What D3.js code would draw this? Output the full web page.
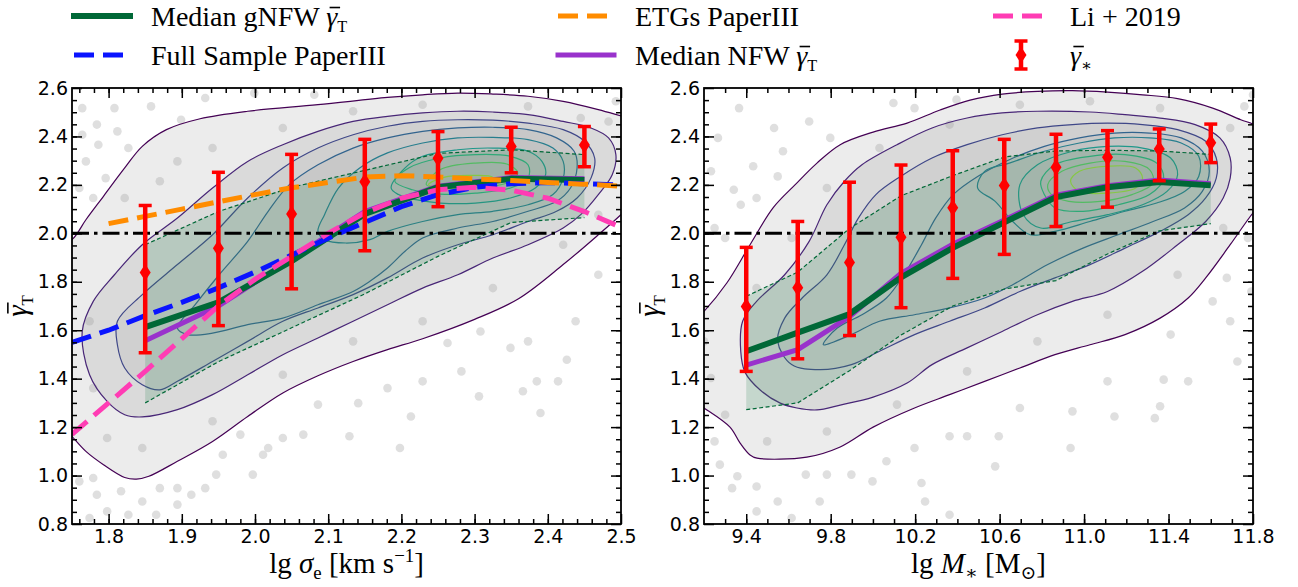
<!DOCTYPE html>
<html>
<head>
<meta charset="utf-8">
<script src="https://cdn.jsdelivr.net/npm/d3@7/dist/d3.min.js"></script>
<style>
	body { margin: 0; background: #fff; }
	.tick text { font-family: "DejaVu Sans", sans-serif; font-size: 19px; fill: #000; }
	.serif { font-family: "Liberation Serif", "DejaVu Serif", serif; fill: #000; }
</style>
</head>
<body>
<div id="chart"></div>
<script>

// ---- shared axis values
var gammaDomain = [0.8, 2.6];
var gammaTicks = [0.8, 1.0, 1.2, 1.4, 1.6, 1.8, 2.0, 2.2, 2.4, 2.6];
var sigmaDomain = [1.75, 2.5];
var sigmaTicks = [1.8, 1.9, 2.0, 2.1, 2.2, 2.3, 2.4, 2.5];
var massDomain = [9.2, 11.8];
var massTicks = [9.4, 9.8, 10.2, 10.6, 11.0, 11.4, 11.8];
var isothermal = 2.0;

// ---- left panel: lg sigma_e
var sigmaBins = [1.85, 1.95, 2.05, 2.15, 2.25, 2.35, 2.45];
var sigmaGammaStar = [1.838, 1.938, 2.08, 2.213, 2.31, 2.358, 2.365];
var sigmaStarLow = [1.507, 1.619, 1.771, 1.928, 2.11, 2.25, 2.275];
var sigmaStarHigh = [2.115, 2.252, 2.326, 2.388, 2.42, 2.438, 2.441];
var sigmaMedGNFW = [1.613, 1.715, 1.885, 2.08, 2.19, 2.225, 2.22];
var sigmaMedNFW = [1.557, 1.70, 1.895, 2.09, 2.195, 2.23, 2.225];
var sigmaBandLow = [1.30, 1.47, 1.61, 1.75, 1.905, 2.045, 2.065];
var sigmaBandHigh = [1.953, 2.09, 2.19, 2.26, 2.33, 2.345, 2.325];

var fullSample = [[1.75,1.55],[1.80,1.60],[1.85,1.66],[1.90,1.715],[1.95,1.775],[2.00,1.84],[2.05,1.91],[2.10,1.98],
	[2.15,2.045],[2.20,2.11],[2.25,2.16],[2.30,2.19],[2.35,2.205],[2.40,2.21],[2.45,2.205],[2.50,2.20]];
var etgPaper = [[1.80,2.04],[1.85,2.07],[1.90,2.10],[1.95,2.13],[2.00,2.16],[2.05,2.188],[2.10,2.21],[2.15,2.232],
	[2.20,2.238],[2.25,2.233],[2.30,2.225],[2.35,2.218],[2.40,2.21],[2.45,2.203],[2.50,2.195]];
var li2019 = [[1.75,1.17],[1.80,1.30],[1.85,1.43],[1.90,1.565],[1.95,1.70],[2.00,1.81],[2.05,1.905],[2.10,2.0],
	[2.15,2.085],[2.20,2.145],[2.25,2.18],[2.30,2.19],[2.35,2.178],[2.40,2.145],[2.45,2.09],[2.50,2.025]];

var sigmaC1 = [[1.73,1.945],[1.75,1.974],[1.769,2.056],[1.793,2.153],[1.822,2.27],[1.846,2.359],[1.879,2.428],[1.925,2.473],
	[1.99,2.504],[2.086,2.531],[2.181,2.561],[2.229,2.572],[2.277,2.579],[2.325,2.575],[2.373,2.566],[2.421,2.545],
	[2.469,2.511],[2.502,2.483],[2.527,2.462],[2.527,2.16],[2.502,2.083],[2.469,1.994],[2.421,1.871],[2.36,1.73],
	[2.30,1.645],[2.229,1.565],[2.181,1.52],[2.134,1.471],[2.086,1.412],[2.038,1.341],[1.99,1.244],[1.942,1.141],
	[1.894,1.059],[1.855,0.997],[1.838,0.985],[1.822,0.992],[1.793,1.045],[1.769,1.1],[1.75,1.162],[1.736,1.21]];
var sigmaC2 = [[1.764,1.595],[1.779,1.719],[1.808,1.829],[1.846,1.953],[1.894,2.063],[1.942,2.187],[1.99,2.297],
	[2.038,2.366],[2.086,2.421],[2.134,2.462],[2.181,2.483],[2.229,2.497],[2.277,2.504],[2.325,2.501],[2.373,2.49],
	[2.421,2.462],[2.459,2.435],[2.483,2.394],[2.493,2.325],[2.488,2.242],[2.469,2.16],[2.445,2.077],[2.421,2.022],
	[2.373,1.953],[2.325,1.898],[2.277,1.829],[2.229,1.774],[2.181,1.705],[2.134,1.637],[2.086,1.568],[2.038,1.499],
	[1.99,1.416],[1.942,1.334],[1.894,1.272],[1.846,1.242],[1.822,1.251],[1.798,1.306],[1.774,1.416]];
var sigmaC3 = [[1.812,1.637],[1.846,1.747],[1.894,1.871],[1.942,1.994],[1.99,2.146],[2.038,2.27],[2.086,2.352],
	[2.134,2.407],[2.181,2.442],[2.229,2.462],[2.277,2.469],[2.325,2.467],[2.373,2.455],[2.421,2.428],[2.45,2.38],
	[2.464,2.311],[2.459,2.228],[2.44,2.146],[2.412,2.091],[2.373,2.049],[2.325,1.994],[2.277,1.953],[2.229,1.898],
	[2.181,1.816],[2.134,1.747],[2.086,1.692],[2.038,1.637],[1.99,1.554],[1.942,1.471],[1.894,1.389],[1.87,1.354],
	[1.846,1.375],[1.822,1.444],[1.812,1.54]];
var sigmaC4 = [[1.894,1.609],[1.918,1.705],[1.951,1.829],[1.99,1.967],[2.018,2.091],[2.047,2.201],[2.086,2.283],
	[2.134,2.352],[2.181,2.394],[2.229,2.421],[2.277,2.435],[2.325,2.438],[2.373,2.428],[2.412,2.394],[2.436,2.339],
	[2.44,2.27],[2.431,2.187],[2.412,2.132],[2.373,2.091],[2.325,2.049],[2.277,2.022],[2.229,1.981],[2.205,1.926],
	[2.181,1.857],[2.157,1.802],[2.134,1.76],[2.086,1.705],[2.038,1.65],[1.99,1.623],[1.942,1.588],[1.908,1.582]];
var sigmaC5 = [[2.086,2.008],[2.095,2.077],[2.114,2.187],[2.143,2.27],[2.181,2.332],[2.229,2.373],[2.277,2.394],
	[2.325,2.396],[2.373,2.387],[2.407,2.352],[2.421,2.297],[2.421,2.228],[2.407,2.16],[2.373,2.118],[2.325,2.091],
	[2.277,2.077],[2.229,2.049],[2.181,2.008],[2.157,1.974],[2.124,1.96],[2.095,1.974]];
var sigmaC6 = [[2.186,2.187],[2.205,2.27],[2.229,2.318],[2.277,2.345],[2.325,2.352],[2.373,2.339],[2.392,2.297],
	[2.397,2.242],[2.383,2.187],[2.349,2.146],[2.301,2.125],[2.253,2.125],[2.22,2.139],[2.196,2.16]];
var sigmaC7 = [[2.191,2.215],[2.21,2.27],[2.253,2.311],[2.301,2.325],[2.349,2.318],[2.373,2.283],[2.373,2.228],
	[2.349,2.187],[2.301,2.166],[2.253,2.162],[2.215,2.18]];
var sigmaC8 = [[2.234,2.201],[2.253,2.263],[2.301,2.29],[2.344,2.286],[2.359,2.249],[2.344,2.208],[2.301,2.19],
	[2.258,2.187]];
var sigmaC9 = [[2.237,2.201],[2.258,2.231],[2.292,2.239],[2.325,2.231],[2.325,2.201],[2.292,2.187],[2.253,2.187]];
var sigmaContours = [sigmaC1, sigmaC2, sigmaC3, sigmaC4, sigmaC5, sigmaC6, sigmaC7, sigmaC8, sigmaC9];

var sigmaDots = [[2.198,1.114],[2.213,1.244],[2.129,1.162],[2.141,1.299],[2.366,1.348],[2.385,1.389],[2.414,1.389],
	[2.438,1.637],[2.39,1.258],[2.349,1.527],[2.426,1.478],[2.306,1.327],[2.263,1.547],[2.308,1.595],[2.282,1.43],
	[1.997,1.004],[2.011,1.086],[2.038,1.155],[1.98,1.169],[1.956,1.086],[1.947,1.004],[1.913,0.921],[1.894,0.948],
	[1.846,0.893],[1.798,0.852],[1.774,0.825],[1.779,0.99],[1.817,0.935],[1.865,0.838],[1.87,0.948],[1.858,2.524],
	[1.899,2.469],[1.827,2.352],[1.786,2.366],[1.769,2.297],[1.764,2.407],[1.796,2.228],[1.932,2.559],[1.999,2.579],
	[2.493,2.545],[2.081,2.572],[2.483,2.462],[1.822,2.146],[1.87,2.215],[1.894,2.297],[1.942,2.352],[2.038,2.435],
	[2.134,2.504],[2.229,2.531],[2.373,2.524],[2.445,2.476],[2.469,2.077],[2.421,1.953],[2.325,1.774],[2.229,1.637],
	[2.134,1.554],[2.038,1.416],[1.942,1.224],[1.846,1.114],[1.798,1.155],[1.779,1.361],[1.774,1.637],
	[1.764,2.517],[1.808,2.517],[1.784,2.449],[1.812,2.421],[1.76,2.187],[1.779,2.146],[1.76,0.976],[1.784,0.921],
	[1.827,0.838],[1.894,0.88],[1.932,0.948],[2.018,1.114],[2.066,1.169],[2.086,1.293],[2.181,1.361],[2.229,1.389],
	[2.373,1.554],[2.469,1.829]];

// ---- right panel: lg M_*
var massBins = [9.4, 9.644, 9.889, 10.133, 10.378, 10.622, 10.867, 11.111, 11.356, 11.6];
var massGammaStar = [1.698, 1.775, 1.88, 1.984, 2.106, 2.197, 2.273, 2.314, 2.348, 2.374];
var massStarLow = [1.43, 1.482, 1.578, 1.693, 1.814, 1.913, 2.028, 2.108, 2.217, 2.292];
var massStarHigh = [1.942, 2.049, 2.211, 2.282, 2.341, 2.388, 2.409, 2.424, 2.431, 2.451];
var massMedGNFW = [1.513, 1.59, 1.667, 1.818, 1.94, 2.045, 2.15, 2.19, 2.212, 2.198];
var massMedNFW = [1.456, 1.52, 1.656, 1.835, 1.955, 2.055, 2.158, 2.197, 2.22, 2.205];
var massBandLow = [1.272, 1.30, 1.433, 1.58, 1.70, 1.77, 1.805, 1.915, 2.01, 2.04];
var massBandHigh = [1.74, 1.84, 2.02, 2.155, 2.238, 2.315, 2.34, 2.343, 2.34, 2.326];

var massC1 = [[9.15,1.637],[9.2,1.678],[9.308,1.795],[9.418,1.953],[9.527,2.105],[9.632,2.201],[9.735,2.29],
	[9.845,2.366],[10.001,2.418],[10.162,2.455],[10.318,2.509],[10.46,2.55],[10.612,2.575],[10.779,2.586],
	[10.945,2.589],[11.111,2.583],[11.277,2.572],[11.443,2.556],[11.609,2.517],[11.742,2.469],[11.806,2.449],
	[11.892,2.407],[11.892,2.173],[11.806,2.091],[11.692,1.953],[11.576,1.816],[11.493,1.733],[11.36,1.65],
	[11.194,1.582],[11.028,1.54],[10.862,1.499],[10.696,1.444],[10.529,1.389],[10.363,1.334],[10.197,1.279],
	[10.001,1.2],[9.845,1.118],[9.687,1.076],[9.451,1.072],[9.418,1.085],[9.371,1.134],[9.323,1.2],[9.2,1.279],[9.15,1.306]];
var massC2 = [[9.374,1.513],[9.383,1.637],[9.449,1.719],[9.582,1.829],[9.698,1.967],[9.782,2.118],[9.865,2.215],
	[9.948,2.283],[10.114,2.366],[10.28,2.435],[10.446,2.476],[10.612,2.497],[10.779,2.504],[11.028,2.501],
	[11.194,2.49],[11.36,2.476],[11.526,2.449],[11.643,2.394],[11.692,2.311],[11.692,2.228],[11.659,2.146],
	[11.576,2.049],[11.443,1.953],[11.277,1.843],[11.111,1.76],[10.945,1.719],[10.779,1.664],[10.612,1.595],
	[10.446,1.527],[10.28,1.458],[10.162,1.382],[10.001,1.324],[9.845,1.291],[9.735,1.271],[9.64,1.279],
	[9.561,1.299],[9.466,1.353],[9.394,1.427]];
var massC3 = [[9.549,1.554],[9.582,1.65],[9.665,1.733],[9.782,1.829],[9.865,1.953],[9.931,2.063],[10.014,2.16],
	[10.131,2.235],[10.28,2.311],[10.446,2.366],[10.612,2.407],[10.779,2.435],[10.945,2.449],[11.111,2.455],
	[11.277,2.449],[11.443,2.428],[11.576,2.38],[11.626,2.311],[11.626,2.228],[11.576,2.146],[11.493,2.077],
	[11.36,2.008],[11.194,1.939],[11.028,1.871],[10.862,1.816],[10.696,1.76],[10.529,1.692],[10.363,1.637],
	[10.197,1.582],[10.031,1.513],[9.898,1.458],[9.748,1.437],[9.615,1.458]];
var massC4 = [[9.765,1.54],[9.831,1.609],[9.948,1.664],[10.064,1.733],[10.147,1.829],[10.23,1.953],[10.297,2.063],
	[10.38,2.16],[10.496,2.235],[10.646,2.304],[10.812,2.359],[10.978,2.394],[11.144,2.414],[11.31,2.414],
	[11.46,2.394],[11.56,2.339],[11.593,2.256],[11.56,2.173],[11.476,2.105],[11.327,2.049],[11.161,1.994],
	[10.995,1.939],[10.828,1.871],[10.662,1.788],[10.529,1.733],[10.363,1.692],[10.197,1.664],[10.031,1.637],[9.898,1.582]];
var massC5 = [[10.496,2.187],[10.529,2.256],[10.646,2.29],[10.812,2.339],[10.978,2.373],[11.144,2.394],[11.31,2.394],
	[11.46,2.373],[11.543,2.318],[11.543,2.235],[11.476,2.173],[11.344,2.125],[11.194,2.091],[11.028,2.049],
	[10.862,2.008],[10.745,1.994],[10.662,2.049],[10.579,2.132]];
var massC6 = [[10.696,2.201],[10.779,2.283],[10.945,2.339],[11.111,2.359],[11.277,2.352],[11.41,2.311],[11.443,2.242],
	[11.393,2.173],[11.277,2.118],[11.111,2.077],[10.945,2.049],[10.795,2.022],[10.712,2.077]];
var massC7 = [[10.795,2.215],[10.862,2.283],[11.028,2.318],[11.194,2.325],[11.344,2.29],[11.377,2.228],[11.31,2.16],
	[11.161,2.118],[10.995,2.091],[10.862,2.105],[10.812,2.16]];
var massC8 = [[10.828,2.201],[10.895,2.256],[11.028,2.29],[11.194,2.297],[11.31,2.263],[11.327,2.208],[11.227,2.16],
	[11.078,2.132],[10.928,2.132],[10.845,2.16]];
var massC9 = [[10.936,2.215],[10.978,2.256],[11.111,2.277],[11.244,2.27],[11.277,2.228],[11.244,2.187],[11.111,2.166],
	[10.978,2.173]];
var massContours = [massC1, massC2, massC3, massC4, massC5, massC6, massC7, massC8, massC9];

var massDots = [[10.945,1.265],[11.144,1.244],[11.335,1.237],[11.36,1.286],[11.377,1.396],[11.493,1.389],[10.936,1.114],
	[10.579,1.038],[10.596,1.162],[10.23,0.969],[10.363,1.162],[10.446,1.162],[11.692,1.637],[11.726,1.471],
	[11.792,1.76],[11.676,1.816],[11.41,1.582],[9.549,0.893],[9.358,0.997],[9.275,1.045],[9.449,0.955],[9.682,1.004],
	[9.782,1.004],[9.898,1.004],[9.998,0.976],[9.615,0.825],[10.363,0.838],[10.247,0.893],[9.433,2.277],[9.549,2.235],
	[9.574,2.339],[9.341,2.18],[9.374,2.118],[9.25,2.022],[9.3,1.981],[9.798,2.394],[10.097,2.538],[10.396,2.552],
	[10.197,2.517],[11.759,2.524],[11.8,2.572],[9.449,1.774],[9.615,1.981],[9.782,2.187],[10.031,2.352],[10.363,2.449],
	[10.696,2.531],[11.028,2.545],[11.36,2.517],[11.692,2.435],[11.659,2.022],[11.443,1.829],[11.111,1.664],
	[10.779,1.554],[10.446,1.43],[10.114,1.293],[9.782,1.182],[9.499,1.141],[9.3,1.251],[9.233,1.403],[9.2,1.554],
	[9.266,2.394],[9.366,2.517],[9.532,2.435],[9.698,2.462],[9.233,2.256],[9.449,2.146],[9.25,1.141],[9.333,0.948],
	[9.449,0.852],[9.748,0.893],[10.064,1.059],[10.197,1.114],[10.696,1.279],[11.111,1.389],[11.609,1.719],[11.776,1.981]];

// ---- layout
var width = 1298, height = 587;
var plotTop = 88, plotBottom = 524;
var densOpacity = [0.16, 0.18, 0.12, 0.1, 0.07, 0.05, 0.04, 0.03, 0.03];
var diamond = 'M0,-8.5L5.5,0L0,8.5L-5.5,0Z';

var svg = d3.select('#chart').append('svg')
	.attr('width', width)
	.attr('height', height);


// Write a label made of pieces, each one shifted off the baseline.
// Pieces flagged with bar get a hand drawn overline (gamma bar).
function richText(g, size, anchor, parts) {
	var text = g.append('text').attr('class', 'serif')
		.attr('font-size', size)
		.attr('text-anchor', anchor);
	var shift = 0, idx = 0, bars = [];
	parts.forEach(function(p) {
		var ts = text.append('tspan').text(p.t);
		var s = p.shift || 0;
		ts.attr('dy', s - shift);
		shift = s;
		if (p.it) ts.attr('font-style', 'italic');
		if (p.size) ts.attr('font-size', p.size);
		if (p.bar) bars.push(idx);
		idx += p.t.length;
	});
	bars.forEach(function(ci) {
		var a = text.node().getStartPositionOfChar(ci);
		var b = text.node().getEndPositionOfChar(ci);
		g.append('line')
			.attr('x1', a.x + 0.12 * size).attr('x2', b.x + 0.1 * size)
			.attr('y1', a.y - 0.66 * size).attr('y2', a.y - 0.66 * size)
			.attr('stroke', '#000').attr('stroke-width', 1.6);
	});
	return text;
}

function gammaParts(sub) {
	return [{t: 'γ', it: true, bar: true}, {t: sub, size: '58%', shift: 6}];
}


function drawPanel(p) {

	var x = d3.scaleLinear().domain(p.xDomain).range([p.left, p.right]);
	var y = d3.scaleLinear().domain(gammaDomain).range([plotBottom, plotTop]);

	var clipId = 'clip-' + p.name;
	svg.append('clipPath').attr('id', clipId)
		.append('rect')
		.attr('x', p.left).attr('y', plotTop)
		.attr('width', p.right - p.left).attr('height', plotBottom - plotTop);

	var g = svg.append('g').attr('clip-path', 'url(#' + clipId + ')');

	var closed = d3.line()
		.x((d) => x(d[0])).y((d) => y(d[1]))
		.curve(d3.curveCatmullRomClosed.alpha(0.5));
	var open = d3.line()
		.x((d) => x(d[0])).y((d) => y(d[1]));

	// crowded scatter cloud, shaded by contour level
	g.selectAll('path.dens')
		.data(p.contours)
		.enter().append('path')
		.attr('d', closed)
		.attr('fill', '#8a8a8a')
		.attr('fill-opacity', (d, i) => densOpacity[i]);

	g.selectAll('circle.dot')
		.data(p.dots)
		.enter().append('circle')
		.attr('cx', (d) => x(d[0]))
		.attr('cy', (d) => y(d[1]))
		.attr('r', 4.3)
		.attr('fill', '#9a9a9a')
		.attr('fill-opacity', 0.32);

	var n = p.contours.length;
	g.selectAll('path.cont')
		.data(p.contours)
		.enter().append('path')
		.attr('d', closed)
		.attr('fill', 'none')
		.attr('stroke', (d, i) => d3.interpolateViridis(i / (n - 1) * 0.85))
		.attr('stroke-width', 1.2);

	// 16-84 percentile band
	var band = p.bins.map((b, i) => ({x: b, lo: p.bandLow[i], hi: p.bandHigh[i]}));
	g.append('path')
		.attr('d', d3.area().x((d) => x(d.x)).y0((d) => y(d.lo)).y1((d) => y(d.hi))(band))
		.attr('fill', '#3d8f5f')
		.attr('fill-opacity', 0.22);
	['lo', 'hi'].forEach(function(k) {
		g.append('path')
			.attr('d', d3.line().x((d) => x(d.x)).y((d) => y(d[k]))(band))
			.attr('fill', 'none')
			.attr('stroke', '#006837')
			.attr('stroke-width', 1.2)
			.attr('stroke-dasharray', '4,2.5');
	});

	var medNFW = p.bins.map((b, i) => [b, p.medNFW[i]]);
	var medGNFW = p.bins.map((b, i) => [b, p.medGNFW[i]]);

	g.append('path').attr('d', open(medNFW))
		.attr('fill', 'none').attr('stroke', '#9932cc').attr('stroke-width', 5);
	g.append('path').attr('d', open(medGNFW))
		.attr('fill', 'none').attr('stroke', '#006837').attr('stroke-width', 6);

	(p.refLines || []).forEach(function(r) {
		g.append('path').attr('d', open(r.data))
			.attr('fill', 'none')
			.attr('stroke', r.color)
			.attr('stroke-width', 5)
			.attr('stroke-dasharray', '20,9');
	});

	// isothermal reference
	g.append('line')
		.attr('x1', p.left).attr('x2', p.right)
		.attr('y1', y(isothermal)).attr('y2', y(isothermal))
		.attr('stroke', '#000')
		.attr('stroke-width', 3)
		.attr('stroke-dasharray', '17,5,3.5,5');

	// gamma_* error bars
	var eb = svg.append('g');
	p.bins.forEach(function(b, i) {
		var cx = x(b);
		eb.append('line')
			.attr('x1', cx).attr('x2', cx)
			.attr('y1', y(p.starLow[i])).attr('y2', y(p.starHigh[i]))
			.attr('stroke', 'red').attr('stroke-width', 4.5);
		[p.starLow[i], p.starHigh[i]].forEach(function(v) {
			eb.append('line')
				.attr('x1', cx - 6.5).attr('x2', cx + 6.5)
				.attr('y1', y(v)).attr('y2', y(v))
				.attr('stroke', 'red').attr('stroke-width', 3.5);
		});
		eb.append('path')
			.attr('d', diamond)
			.attr('transform', 'translate(' + cx + ',' + y(p.gammaStar[i]) + ')')
			.attr('fill', 'red');
	});

	// frame and inward ticks
	var ax = svg.append('g');
	var minorY = d3.range(0.85, 2.6, 0.05);
	ax.append('g').attr('transform', 'translate(0,' + plotBottom + ')')
		.call(d3.axisBottom(x).tickValues(p.ticks).tickSize(-10).tickPadding(6).tickFormat(d3.format('.1f')));
	ax.append('g').attr('transform', 'translate(0,' + plotBottom + ')')
		.call(d3.axisBottom(x).tickValues(p.minor).tickSize(-5).tickFormat(''));
	ax.append('g').attr('transform', 'translate(0,' + plotTop + ')')
		.call(d3.axisTop(x).tickValues(p.ticks).tickSize(-10).tickFormat(''));
	ax.append('g').attr('transform', 'translate(0,' + plotTop + ')')
		.call(d3.axisTop(x).tickValues(p.minor).tickSize(-5).tickFormat(''));
	ax.append('g').attr('transform', 'translate(' + p.left + ',0)')
		.call(d3.axisLeft(y).tickValues(gammaTicks).tickSize(-10).tickPadding(4).tickFormat(d3.format('.1f')));
	ax.append('g').attr('transform', 'translate(' + p.left + ',0)')
		.call(d3.axisLeft(y).tickValues(minorY).tickSize(-5).tickFormat(''));
	ax.append('g').attr('transform', 'translate(' + p.right + ',0)')
		.call(d3.axisRight(y).tickValues(gammaTicks).tickSize(-10).tickFormat(''));
	ax.append('g').attr('transform', 'translate(' + p.right + ',0)')
		.call(d3.axisRight(y).tickValues(minorY).tickSize(-5).tickFormat(''));
	ax.selectAll('.domain').remove();
	ax.selectAll('.tick line').attr('stroke', '#000').attr('stroke-width', 1.5);

	svg.append('rect')
		.attr('x', p.left).attr('y', plotTop)
		.attr('width', p.right - p.left).attr('height', plotBottom - plotTop)
		.attr('fill', 'none').attr('stroke', '#000').attr('stroke-width', 1.8);

	// axis titles
	richText(svg.append('g').attr('transform', 'translate(' + (p.left + p.right) / 2 + ',573)'),
		29, 'middle', p.xTitle);
	richText(svg.append('g').attr('transform', 'translate(' + p.yTitleX + ',306) rotate(-90)'),
		29, 'middle', gammaParts('T'));
}


drawPanel({
	name: 'sigma', left: 72, right: 621, xDomain: sigmaDomain,
	ticks: sigmaTicks, minor: d3.range(1.76, 2.5, 0.02),
	bins: sigmaBins, gammaStar: sigmaGammaStar, starLow: sigmaStarLow, starHigh: sigmaStarHigh,
	medGNFW: sigmaMedGNFW, medNFW: sigmaMedNFW, bandLow: sigmaBandLow, bandHigh: sigmaBandHigh,
	contours: sigmaContours, dots: sigmaDots,
	refLines: [
		{data: fullSample, color: '#0a14ff'},
		{data: etgPaper, color: '#ff8c00'},
		{data: li2019, color: '#ff3cb4'}
	],
	yTitleX: 27,
	xTitle: [{t: 'lg  '}, {t: 'σ', it: true}, {t: 'e', size: '65%', shift: 6}, {t: ' [km s'},
		{t: '−1', size: '65%', shift: -11}, {t: ']'}]
});

drawPanel({
	name: 'mass', left: 704, right: 1253, xDomain: massDomain,
	ticks: massTicks, minor: d3.range(9.3, 11.8, 0.1),
	bins: massBins, gammaStar: massGammaStar, starLow: massStarLow, starHigh: massStarHigh,
	medGNFW: massMedGNFW, medNFW: massMedNFW, bandLow: massBandLow, bandHigh: massBandHigh,
	contours: massContours, dots: massDots,
	yTitleX: 659,
	xTitle: [{t: 'lg  '}, {t: 'M', it: true}, {t: '∗', size: '65%', shift: 6}, {t: ' [M'},
		{t: '⊙', size: '65%', shift: 6}, {t: ']'}]
});


// ---- legend (three columns, two rows)
var legend = svg.append('g');
var legendItems = [
	{col: 0, row: 0, kind: 'solid', color: '#006837', w: 6, label: [{t: 'Median gNFW '}].concat(gammaParts('T'))},
	{col: 0, row: 1, kind: 'dash', color: '#0a14ff', label: [{t: 'Full Sample PaperIII'}]},
	{col: 1, row: 0, kind: 'dash', color: '#ff8c00', label: [{t: 'ETGs PaperIII'}]},
	{col: 1, row: 1, kind: 'solid', color: '#9932cc', w: 5, label: [{t: 'Median NFW '}].concat(gammaParts('T'))},
	{col: 2, row: 0, kind: 'dash', color: '#ff3cb4', label: [{t: 'Li + 2019'}]},
	{col: 2, row: 1, kind: 'err', color: 'red', label: gammaParts('∗')}
];
var colX = [74, 558, 993];
var rowY = [16, 55];

legendItems.forEach(function(it) {
	var x0 = colX[it.col], yy = rowY[it.row];
	if (it.kind === 'err') {
		var cx = x0 + 28;
		legend.append('line').attr('x1', cx).attr('x2', cx).attr('y1', yy - 14).attr('y2', yy + 14)
			.attr('stroke', 'red').attr('stroke-width', 4.5);
		[yy - 14, yy + 14].forEach(function(v) {
			legend.append('line').attr('x1', cx - 6.5).attr('x2', cx + 6.5).attr('y1', v).attr('y2', v)
				.attr('stroke', 'red').attr('stroke-width', 3.5);
		});
		legend.append('path').attr('d', diamond)
			.attr('transform', 'translate(' + cx + ',' + yy + ')').attr('fill', 'red');
	} else {
		var ln = legend.append('line')
			.attr('x1', x0).attr('x2', x0 + 56).attr('y1', yy).attr('y2', yy)
			.attr('stroke', it.color)
			.attr('stroke-width', it.w || 5);
		if (it.kind === 'dash') ln.attr('stroke-dasharray', '20,9');
		else ln.attr('stroke-linecap', 'square');
	}
	richText(legend.append('g').attr('transform', 'translate(' + (x0 + 77) + ',' + (yy + 10) + ')'),
		28, 'start', it.label);
});

</script>
</body>
</html>
